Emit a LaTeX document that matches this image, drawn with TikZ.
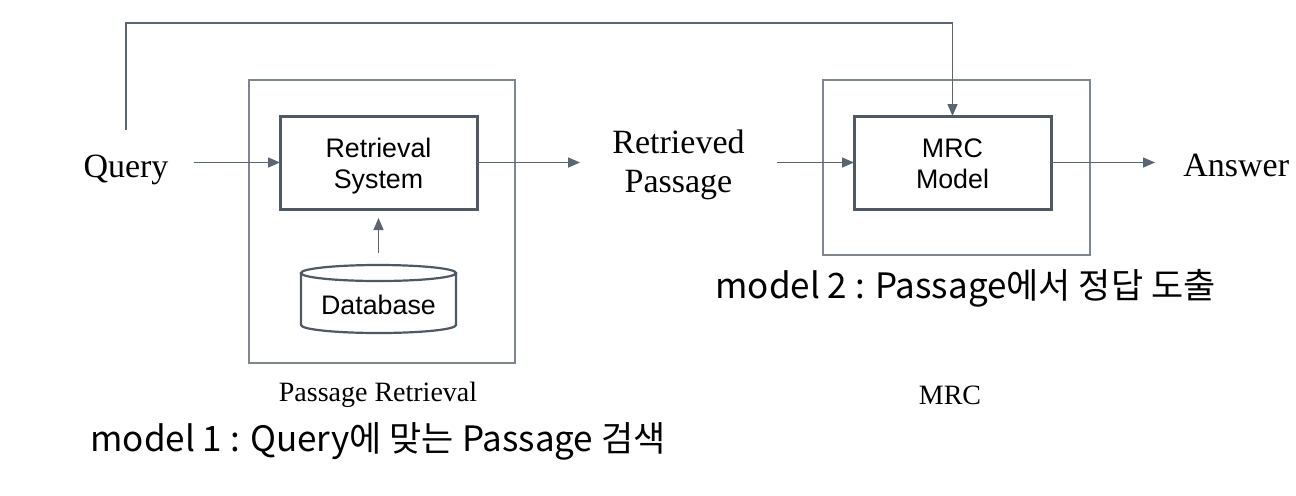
\documentclass[tikz,border=0pt]{standalone}
\usepackage{fontspec}
\setmainfont{Liberation Serif}
\setsansfont{Liberation Sans}
\newfontfamily\handfont{Noto Sans CJK KR}
\usetikzlibrary{arrows.meta,positioning}

\definecolor{linegray}{HTML}{5A6571}
\definecolor{boxgray}{HTML}{4F5863}
\definecolor{framegray}{HTML}{80868D}

\newcommand\boxlines[2]{\raisebox{-2pt}[\height][\depth]{\begin{tabular}{@{}c@{}}#1\\#2\end{tabular}}}

\tikzset{
  flow/.style={draw=linegray, line width=0.75pt, -{Triangle[length=6pt,width=5pt]}},
  block/.style={draw=boxgray, line width=1.5pt, minimum width=98.5pt, minimum height=46.5pt,
    font=\sffamily\fontsize{13.4}{15.5}\selectfont, inner sep=0pt, outer sep=0pt},
  frame/.style={draw=framegray, line width=0.75pt, inner sep=0pt, outer sep=0pt},
  word/.style={font=\fontsize{17}{19.5}\selectfont, align=center, inner sep=0pt},
  caption/.style={font=\fontsize{14}{16}\selectfont, inner sep=0pt},
  note/.style={font=\handfont\fontsize{17.5}{20}\selectfont, inner sep=0pt, anchor=west},
  dbline/.style={draw=boxgray, line width=1.1pt},
}

\begin{document}
\begin{tikzpicture}[x=0.5pt, y=-0.5pt]
\useasboundingbox (0,0) rectangle (1296,495);

% frames
\node[frame, minimum width=133pt, minimum height=141.5pt] (prframe) at (382,221.5) {};
\node[frame, minimum width=133.5pt, minimum height=87.5pt] (mrcframe) at (956.5,167.5) {};

% main blocks
\node[block] (rs) at (378.5,162.5) {\boxlines{Retrieval}{System}};
\node[block] (mrc) at (952.5,162.5) {\boxlines{MRC}{Model}};
\node[word, anchor=base, inner xsep=12.5pt, inner ysep=12pt] (query) at (126,177) {Query};
\node[word, inner xsep=16pt] (retrieved) at (678.5,165) {Retrieved\\Passage};
\node[word, anchor=west, inner xsep=14pt] (answer) at (1155,165.5) {Answer};

% database
\node[inner sep=0pt, outer sep=0pt, minimum width=77.5pt, minimum height=34pt,
  font=\sffamily\fontsize{13.4}{15.5}\selectfont] (db) at (378.5,299)
  {\raisebox{-3pt}[\height][\depth]{Database}};
\draw[dbline] ([yshift=-4pt]db.north) ellipse[x radius=38.75pt, y radius=4pt];
\draw[dbline] ([yshift=-4pt]db.north west) -- ([yshift=4pt]db.south west)
  arc[start angle=180, end angle=360, x radius=38.75pt, y radius=4pt]
  -- ([yshift=-4pt]db.north east);

% captions
\node[caption] (prcap) at (378,395) {Passage Retrieval};
\node[caption] (mrccap) at (950,395) {MRC};

% connectors
\draw[flow] (query.east |- rs.west) -- (rs.west);
\draw[flow] (rs.east) -- (rs.east -| retrieved.west);
\draw[flow] (retrieved.east |- mrc.west) -- (mrc.west);
\draw[flow] (mrc.east) -- (mrc.east -| answer.west);
\draw[flow, shorten <=6pt, shorten >=4.5pt] (db.north) -- (rs.south);
\draw[flow] (query.north) -- ++(0,-107) -| (mrc.north);

% notes
\node[note] (note2) at (715,288) {model 2 : Passage에서 정답 도출};
\node[note] (note1) at (90,441) {model 1 : Query에 맞는 Passage 검색};
\end{tikzpicture}
\end{document}
